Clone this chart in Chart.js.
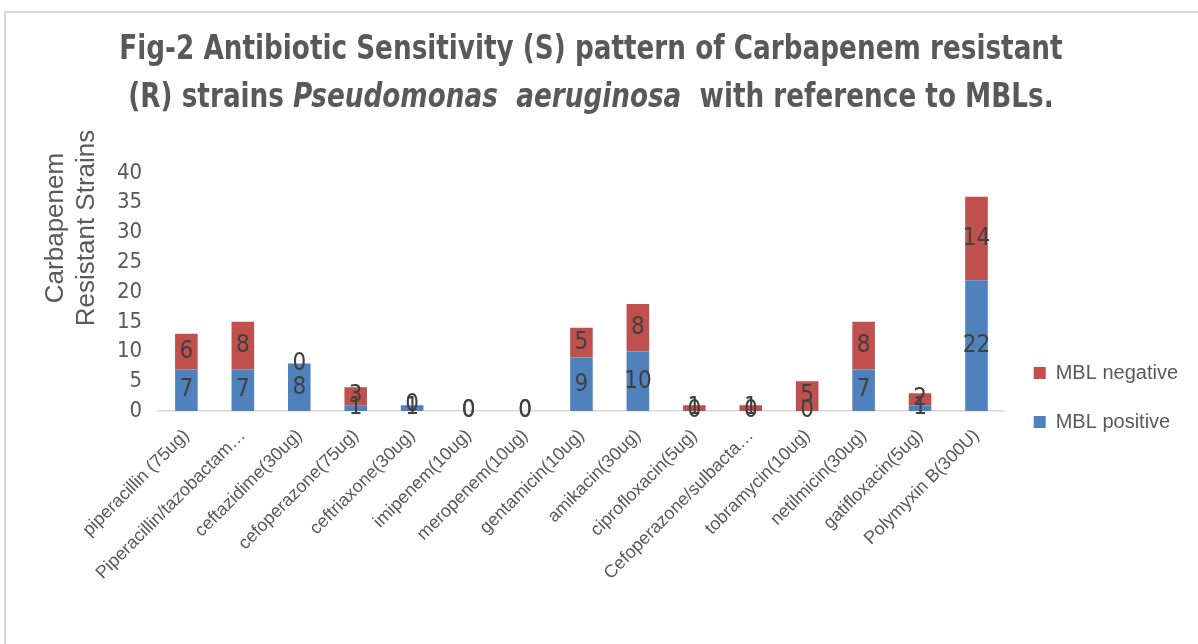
<!DOCTYPE html>
<html>
<head>
<meta charset="utf-8">
<script src="https://cdn.jsdelivr.net/npm/chart.js@4.4.0/dist/chart.umd.min.js"></script>
<style>
  html, body { margin: 0; padding: 0; background: #fff; }
  #frame { position: absolute; left: 4px; top: 11px; width: 1194px; height: 633px;
    border-top: 2px solid #d9d9d9; border-left: 2px solid #d9d9d9; }
  #title { position: absolute; left: 0; top: 24px; width: 1182px; text-align: center;
    font-family: "DejaVu Sans Condensed", "Liberation Sans", sans-serif;
    font-weight: bold; font-size: 33px; line-height: 48px; color: #595959;
    transform: scaleX(0.885); transform-origin: 591px 0; }
  #wrap { position: absolute; left: 0; top: 0; width: 1198px; height: 644px; }
</style>
</head>
<body>
<div id="frame"></div>
<div id="wrap"><canvas id="chart"></canvas></div>
<div id="title">Fig-2 Antibiotic Sensitivity (S) pattern of Carbapenem resistant<br>(R) strains <i>Pseudomonas&nbsp; aeruginosa</i>&nbsp; with reference to MBLs.</div>
<script>
// categories (x axis)
const antibiotics = [
  'piperacillin (75ug)', 'Piperacillin/tazobactam…', 'ceftazidime(30ug)',
  'cefoperazone(75ug)', 'ceftriaxone(30ug)', 'imipenem(10ug)', 'meropenem(10ug)',
  'gentamicin(10ug)', 'amikacin(30ug)', 'ciprofloxacin(5ug)', 'Cefoperazone/sulbacta…',
  'tobramycin(10ug)', 'netilmicin(30ug)', 'gatifloxacin(5ug)', 'Polymyxin B(300U)',
];
const mblPositive = [7, 7, 8, 1, 1, 0, 0, 9, 10, 0, 0, 0, 7, 1, 22];
const mblNegative = [6, 8, 0, 3, 0, 0, 0, 5, 8, 1, 1, 5, 8, 2, 14];
const yTitle = ['Carbapenem', 'Resistant Strains'];

const grey = '#595959';

// value in the middle of every segment, like the Excel data labels
const valueLabels = {
  id: 'valueLabels',
  afterDatasetsDraw(chart) {
    const ctx = chart.ctx;
    ctx.save();
    ctx.font = '24px "DejaVu Sans Condensed", sans-serif';
    ctx.fillStyle = '#404040';
    ctx.textAlign = 'center';
    ctx.textBaseline = 'middle';
    chart.data.datasets.forEach((ds, i) => {
      chart.getDatasetMeta(i).data.forEach((bar, j) => {
        const p = bar.getProps(['x', 'y', 'base'], true);
        ctx.fillText(ds.data[j], p.x, (p.y + p.base) / 2);
      });
    });
    ctx.restore();
  },
};

// y axis title sits a bit above the middle in the original
const axisTitle = {
  id: 'axisTitle',
  afterDraw(chart) {
    const ctx = chart.ctx;
    ctx.save();
    ctx.font = '26px "Liberation Sans", sans-serif';
    ctx.fillStyle = grey;
    ctx.textAlign = 'center';
    ctx.textBaseline = 'middle';
    ctx.translate(72, 228);
    ctx.rotate(-Math.PI / 2);
    ctx.fillText(yTitle[0], 0, -16);
    ctx.fillText(yTitle[1], 0, 15);
    ctx.restore();
  },
};

// push the legend down next to the bars
const legendShift = {
  id: 'legendShift',
  afterLayout(chart) {
    chart.legend.top += 16;
    chart.legend.bottom += 16;
  },
};

new Chart(document.getElementById('chart'), {
  type: 'bar',
  data: {
    labels: antibiotics,
    datasets: [
      { label: 'MBL positive', data: mblPositive, backgroundColor: '#4F81BD' },
      { label: 'MBL negative', data: mblNegative, backgroundColor: '#C0504D' },
    ],
  },
  options: {
    responsive: true,
    maintainAspectRatio: false,
    animation: false,
    layout: { padding: { top: 173, left: 109, right: 10, bottom: 54 } },
    datasets: { bar: { categoryPercentage: 1, barPercentage: 0.4 } },
    plugins: {
      tooltip: { enabled: false },
      legend: {
        position: 'right',
        reverse: true,
        labels: {
          boxWidth: 12,
          boxHeight: 12,
          padding: 29,
          color: grey,
          font: { size: 20, family: '"Liberation Sans", sans-serif' },
        },
      },
    },
    scales: {
      x: {
        stacked: true,
        grid: { display: false },
        border: { color: '#d9d9d9', width: 1.5 },
        ticks: {
          autoSkip: false,
          minRotation: 45,
          maxRotation: 45,
          padding: 6,
          color: grey,
          font: { size: 18, family: '"Liberation Sans", sans-serif' },
        },
      },
      y: {
        stacked: true,
        min: 0,
        max: 40,
        grid: { display: false },
        border: { display: false },
        ticks: {
          stepSize: 5,
          padding: 8,
          color: grey,
          font: { size: 22, family: '"DejaVu Sans Condensed", sans-serif' },
        },
      },
    },
  },
  plugins: [valueLabels, axisTitle, legendShift],
});
</script>
</body>
</html>
